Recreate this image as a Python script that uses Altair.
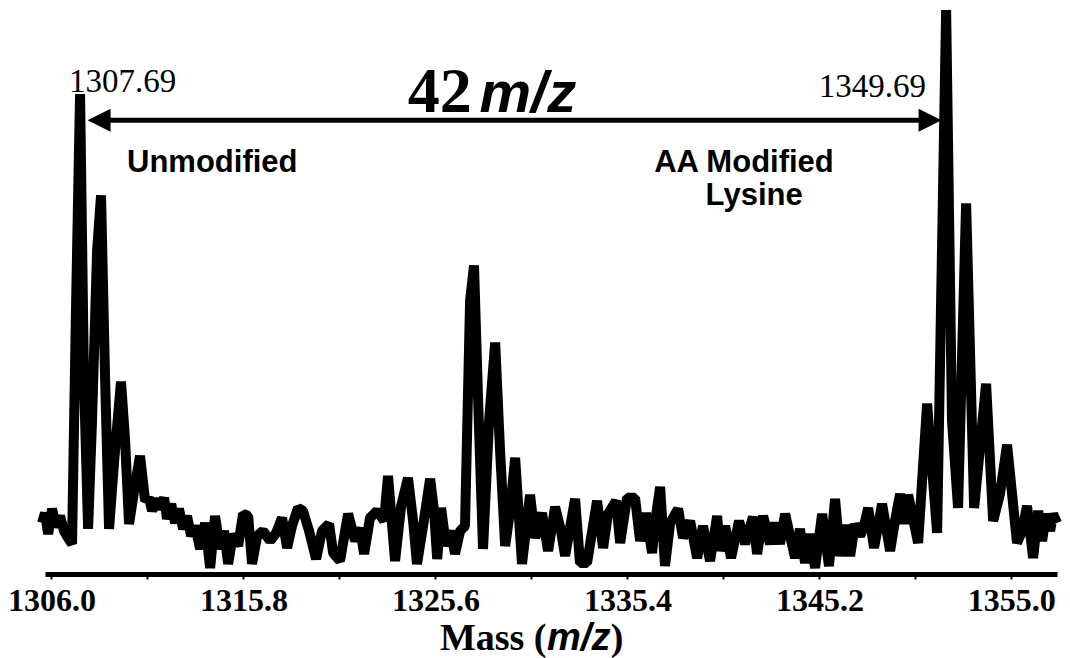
import altair as alt
import pandas as pd

# ---- spectrum trace (mass in m/z, relative intensity) ----
mass = [
    1305.52, 1305.67, 1305.83, 1306.03, 1306.23, 1306.44, 1306.64, 1306.85, 1307.05, 1307.26,
    1307.46, 1307.66, 1307.87, 1308.07, 1308.33, 1308.53, 1308.74, 1308.94, 1309.20, 1309.55,
    1309.76, 1309.96, 1310.22, 1310.52, 1310.78, 1310.98, 1311.14, 1311.34, 1311.54, 1311.75,
    1311.90, 1312.11, 1312.31, 1312.51, 1312.72, 1312.92, 1313.13, 1313.33, 1313.59, 1313.84,
    1314.10, 1314.35, 1314.61, 1314.81, 1315.02, 1315.27, 1315.53, 1315.78, 1316.04, 1316.24,
    1316.50, 1316.80, 1317.16, 1317.47, 1317.77, 1318.03, 1318.28, 1318.59, 1318.84, 1319.15,
    1319.51, 1319.81, 1320.17, 1320.38, 1320.73, 1321.14, 1321.50, 1321.75, 1321.96, 1322.26,
    1322.62, 1322.98, 1323.18, 1323.54, 1323.85, 1324.20, 1324.46, 1324.66, 1324.97, 1325.33,
    1325.53, 1325.69, 1325.89, 1326.14, 1326.40, 1326.60, 1326.86, 1327.11, 1327.37, 1327.57,
    1327.78, 1328.03, 1328.34, 1328.65, 1328.90, 1329.16, 1329.41, 1329.67, 1330.02, 1330.43,
    1330.69, 1331.04, 1331.35, 1331.71, 1332.01, 1332.22, 1332.73, 1332.98, 1333.34, 1333.85,
    1334.16, 1334.41, 1334.82, 1335.03, 1335.38, 1335.79, 1336.05, 1336.35, 1336.66, 1336.86,
    1337.07, 1337.32, 1337.58, 1337.99, 1338.24, 1338.60, 1338.96, 1339.26, 1339.62, 1339.98,
    1340.13, 1340.39, 1340.69, 1341.10, 1341.41, 1341.81, 1342.02, 1342.33, 1342.68, 1342.94,
    1343.19, 1343.45, 1343.96, 1344.21, 1344.47, 1344.72, 1344.98, 1345.34, 1345.69, 1346.00,
    1346.26, 1346.51, 1346.77, 1347.02, 1347.28, 1347.48, 1347.69, 1347.99, 1348.40, 1348.81,
    1349.06, 1349.32, 1349.52, 1349.73, 1350.24, 1350.70, 1351.21, 1351.67, 1351.97, 1352.28,
    1352.69, 1353.10, 1353.71, 1354.07, 1354.42, 1354.78, 1355.29, 1355.55, 1355.80, 1356.11,
    1356.37, 1356.57, 1356.77, 1356.98, 1357.13, 1357.33,
]
intensity = [
    9.06, 10.83, 7.10, 11.55, 8.35, 10.30, 7.64, 6.39, 5.33, 48.49,
    85.10, 34.28, 7.99, 27.18, 57.37, 67.14, 34.28, 7.99, 20.07, 34.10,
    23.62, 8.88, 14.74, 20.96, 12.97, 13.50, 11.19, 13.32, 11.55, 13.50,
    9.77, 12.43, 9.06, 11.55, 7.99, 10.30, 6.75, 8.53, 4.44, 9.06,
    1.07, 10.30, 4.44, 7.64, 1.78, 7.10, 4.97, 10.66, 10.30, 1.78,
    6.75, 7.64, 5.86, 7.28, 9.95, 4.62, 8.53, 11.72, 11.19, 7.64,
    2.66, 7.64, 8.88, 3.73, 2.31, 10.66, 5.86, 8.17, 3.55, 9.95,
    11.19, 9.41, 17.41, 2.31, 12.08, 17.05, 9.41, 1.78, 8.53, 16.87,
    11.19, 2.66, 11.72, 4.97, 7.64, 3.55, 7.64, 8.53, 48.49, 54.71,
    30.73, 4.44, 27.18, 41.03, 21.85, 4.97, 11.19, 20.60, 1.78, 14.03,
    6.39, 10.83, 4.09, 11.90, 7.64, 3.20, 13.32, 1.95, 1.95, 12.97,
    4.62, 10.66, 12.97, 5.51, 13.50, 13.50, 5.86, 10.83, 3.73, 10.30,
    15.45, 1.42, 9.06, 11.55, 6.39, 9.41, 2.84, 8.53, 2.31, 10.30,
    4.09, 8.53, 2.84, 9.41, 5.33, 10.12, 3.55, 10.30, 5.33, 9.06,
    5.33, 10.66, 2.84, 7.99, 1.95, 7.10, 1.07, 10.66, 1.42, 13.32,
    3.20, 8.70, 3.20, 8.88, 6.75, 8.53, 11.72, 4.62, 12.43, 4.09,
    9.41, 14.21, 8.88, 14.03, 5.51, 30.20, 7.28, 100.0, 27.18, 11.72,
    65.72, 11.72, 33.75, 9.41, 14.21, 22.91, 5.51, 7.64, 12.08, 2.84,
    11.19, 5.86, 10.66, 7.64, 10.66, 9.06,
]

# ---- axis ticks ----
major_ticks = [1306.0, 1315.8, 1325.6, 1335.4, 1345.2, 1355.0]
minor_ticks = [1310.9, 1320.7, 1330.5, 1340.3, 1350.1]

# ---- annotations (data coordinates) ----
peak_label_text = ["1307.69", "1349.69"]
peak_label_mass = [1309.63, 1347.91]
peak_label_int = [85.44, 84.55]

arrow_start = [1308.43]
arrow_end = [1350.85]
arrow_level = [80.46]

spectrum = pd.DataFrame({"mass": mass, "intensity": intensity})
peaks_df = pd.DataFrame({"mass": peak_label_mass, "intensity": peak_label_int, "label": peak_label_text})
arrow_df = pd.DataFrame({"mass": arrow_start, "mass2": arrow_end, "intensity": arrow_level})
head_left = pd.DataFrame({"mass": arrow_start, "intensity": arrow_level})
head_right = pd.DataFrame({"mass": arrow_end, "intensity": arrow_level})

x_scale = alt.Scale(domain=[1305.67, 1357.33], nice=False, zero=False)
y_scale = alt.Scale(domain=[0, 100], nice=False, zero=False)

label_expr = ("abs((datum.value - 1306) / 9.8 - round((datum.value - 1306) / 9.8)) < 0.01"
              " ? format(datum.value, '.1f') : ''")

x_axis = alt.Axis(
    values=sorted(major_ticks + minor_ticks),
    labelExpr=label_expr,
    title=None,
    grid=False,
    domainColor="black",
    domainWidth=5,
    tickColor="black",
    tickWidth=2,
    tickSize=5,
    labelFont="Liberation Serif",
    labelFontWeight="bold",
    labelFontSize=32,
    labelColor="black",
    labelPadding=6,
    labelOverlap=False,
    labelFlush=False,
)


def X(field="mass"):
    return alt.X(f"{field}:Q", scale=x_scale, axis=x_axis)


def Y():
    return alt.Y("intensity:Q", scale=y_scale, axis=None)


line = alt.Chart(spectrum).mark_line(
    color="black", strokeWidth=10, strokeJoin="bevel", strokeCap="butt"
).encode(x=X(), y=Y())

arrow = alt.Chart(arrow_df).mark_rule(color="black", strokeWidth=5).encode(
    x=X(), x2="mass2:Q", y=Y()
)
left_head = alt.Chart(head_left).mark_point(
    shape="M1,-1L-1,0L1,1Z", filled=True, color="black", opacity=1, size=529
).encode(x=X(), y=Y())
right_head = alt.Chart(head_right).mark_point(
    shape="M-1,-1L1,0L-1,1Z", filled=True, color="black", opacity=1, size=529
).encode(x=X(), y=Y())

peak_text = alt.Chart(peaks_df).mark_text(
    font="Liberation Serif", fontSize=33, color="black", align="center", baseline="alphabetic"
).encode(x=X(), y=Y(), text="label:N")

# big "42 m/z"
t42 = alt.Chart(pd.DataFrame({"mass": [1327.45], "intensity": [81.9], "t": ["42"]})).mark_text(
    font="Liberation Serif", fontWeight="bold", fontSize=64, color="black", align="right", baseline="alphabetic"
).encode(x=X(), y=Y(), text="t:N")
tmz = alt.Chart(pd.DataFrame({"mass": [1327.85], "intensity": [81.9], "t": ["m/z"]})).mark_text(
    font="Liberation Sans", fontWeight="bold", fontStyle="italic", fontSize=58, color="black",
    align="left", baseline="alphabetic"
).encode(x=X(), y=Y(), text="t:N")

# group labels
group_df = pd.DataFrame({
    "mass": [1314.21, 1341.35, 1341.87],
    "intensity": [71.23, 71.23, 65.36],
    "t": ["Unmodified", "AA Modified", "Lysine"],
})
group_text = alt.Chart(group_df).mark_text(
    font="Liberation Sans", fontWeight="bold", fontSize=31, color="black", align="center", baseline="alphabetic"
).encode(x=X(), y=Y(), text="t:N")

# axis title "Mass (m/z)"
title_a = alt.Chart(pd.DataFrame({"mass": [1325.83], "intensity": [-13.4], "t": ["Mass ("]})).mark_text(
    font="Liberation Serif", fontWeight="bold", fontSize=38, color="black", align="left", baseline="alphabetic"
).encode(x=X(), y=Y(), text="t:N")
title_b = alt.Chart(pd.DataFrame({"mass": [1331.30], "intensity": [-13.4], "t": ["m/z"]})).mark_text(
    font="Liberation Sans", fontWeight="bold", fontStyle="italic", fontSize=38, color="black", align="left", baseline="alphabetic"
).encode(x=X(), y=Y(), text="t:N")
title_c = alt.Chart(pd.DataFrame({"mass": [1334.55], "intensity": [-13.4], "t": [")"]})).mark_text(
    font="Liberation Serif", fontWeight="bold", fontSize=38, color="black", align="left", baseline="alphabetic"
).encode(x=X(), y=Y(), text="t:N")

chart = alt.layer(
    line, arrow, left_head, right_head, peak_text, t42, tmz, group_text, title_a, title_b, title_c
).properties(
    width=1012,
    height=564,
    autosize=alt.AutoSizeParams(type="none"),
    padding={"left": 45, "top": 10, "right": 13, "bottom": 84},
    background="white",
).configure_view(strokeWidth=0)

chart.save("out.html", embed_options={"renderer": "svg", "actions": False})
